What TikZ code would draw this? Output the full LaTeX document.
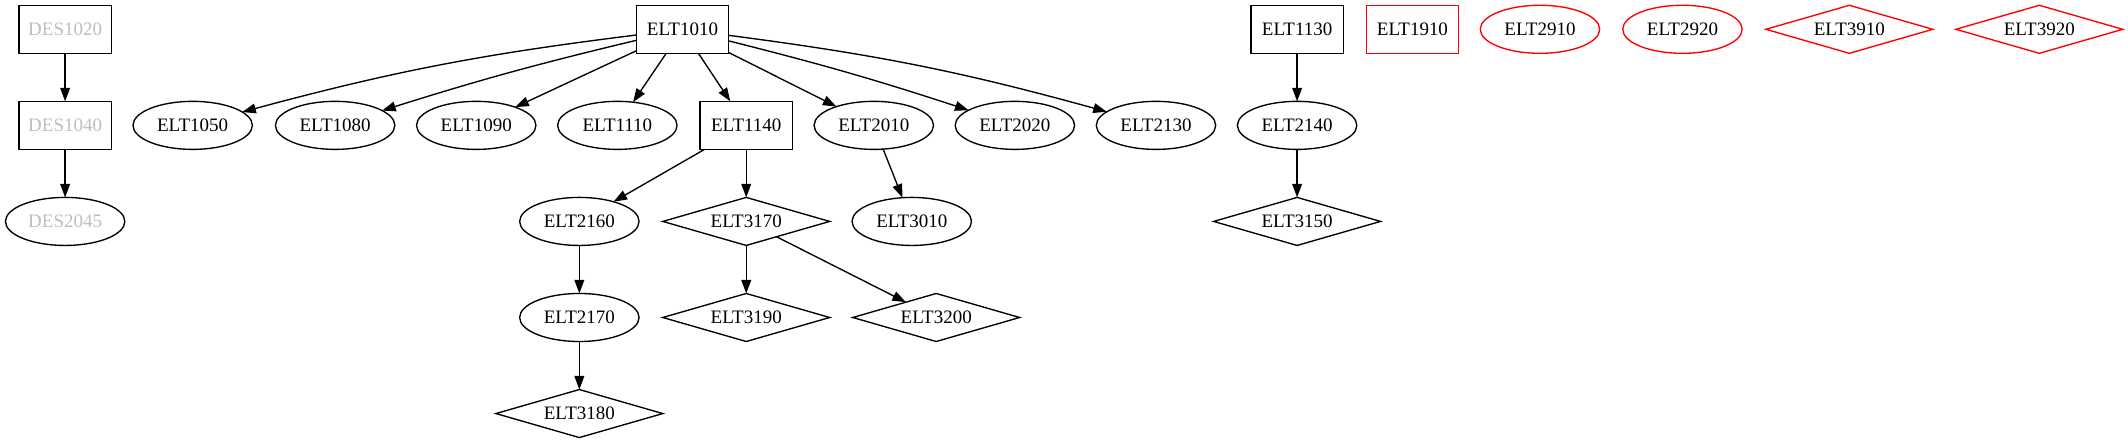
\documentclass[tikz,border=0pt]{standalone}
\usepackage{fontspec}
\setmainfont{Liberation Serif}
\usepackage{xcolor}
\usetikzlibrary{arrows.meta,positioning,shapes.geometric}
\definecolor{desgray}{RGB}{190,190,190}

\begin{document}
\begin{tikzpicture}[x=1pt, y=1pt, node distance=35.4pt, font=\fontsize{14}{16}\selectfont]
\tikzset{
    boxnode/.style={rectangle, draw=black, line width=1pt, minimum width=68pt, minimum height=35.4pt, inner sep=0pt, outer sep=0pt},
    ovalnode/.style={ellipse, draw=black, line width=1pt, minimum width=88pt, minimum height=35.4pt, inner sep=0pt, outer sep=0pt},
    diamnode/.style={diamond, aspect=3.5, draw=black, line width=1pt, minimum width=123pt, minimum height=35.4pt, inner sep=0pt, outer sep=0pt},
    desnode/.style={text=desgray},
    rednode/.style={draw=red},
    myarrow/.style={-{Triangle[length=10pt, width=7.2pt]}, line width=1pt}
}
\useasboundingbox (0,0) rectangle (1568.4,-326.4);

% DES column
\node[boxnode, desnode] (des1020) at (48,-21.6) {DES1020};
\node[boxnode, desnode, below=of des1020] (des1040) {DES1040};
\node[ovalnode, desnode, below=of des1040] (des2045) {DES2045};

% top row
\node[boxnode] (elt1010) at (503,-21.6) {ELT1010};
\node[boxnode] (elt1130) at (956,-21.6) {ELT1130};
\node[boxnode, rednode] (elt1910) at (1041,-21.6) {ELT1910};
\node[ovalnode, rednode] (elt2910) at (1135,-21.6) {ELT2910};
\node[ovalnode, rednode] (elt2920) at (1240,-21.6) {ELT2920};
\node[diamnode, rednode] (elt3910) at (1363,-21.6) {ELT3910};
\node[diamnode, rednode] (elt3920) at (1503,-21.6) {ELT3920};

% second row
\node[ovalnode] (elt1050) at (142,-92.4) {ELT1050};
\node[ovalnode] (elt1080) at (247,-92.4) {ELT1080};
\node[ovalnode] (elt1090) at (351,-92.4) {ELT1090};
\node[ovalnode] (elt1110) at (455,-92.4) {ELT1110};
\node[boxnode] (elt1140) at (550,-92.4) {ELT1140};
\node[ovalnode] (elt2010) at (644,-92.4) {ELT2010};
\node[ovalnode] (elt2020) at (748,-92.4) {ELT2020};
\node[ovalnode] (elt2130) at (852,-92.4) {ELT2130};
\node[ovalnode, below=of elt1130] (elt2140) {ELT2140};

% lower rows
\node[ovalnode] (elt2160) at (427,-163.2) {ELT2160};
\node[diamnode, below=of elt1140] (elt3170) {ELT3170};
\node[ovalnode] (elt3010) at (672,-163.2) {ELT3010};
\node[diamnode, below=of elt2140] (elt3150) {ELT3150};
\node[ovalnode, below=of elt2160] (elt2170) {ELT2170};
\node[diamnode, below=of elt3170] (elt3190) {ELT3190};
\node[diamnode] (elt3200) at (690,-234) {ELT3200};
\node[diamnode, below=of elt2170] (elt3180) {ELT3180};

\draw[myarrow] (des1020) -- (des1040);
\draw[myarrow] (des1040) -- (des2045);

\draw[myarrow] (elt1010) to[bend right=4] (elt1050);
\draw[myarrow] (elt1010) to[bend right=2] (elt1080);
\draw[myarrow] (elt1010) -- (elt1090);
\draw[myarrow] (elt1010) -- (elt1110);
\draw[myarrow] (elt1010) -- (elt1140);
\draw[myarrow] (elt1010) -- (elt2010);
\draw[myarrow] (elt1010) to[bend left=2] (elt2020);
\draw[myarrow] (elt1010) to[bend left=4] (elt2130);

\draw[myarrow] (elt1140) -- (elt2160);
\draw[myarrow] (elt1140) -- (elt3170);
\draw[myarrow] (elt2010) -- (elt3010);
\draw[myarrow] (elt2160) -- (elt2170);
\draw[myarrow] (elt2170) -- (elt3180);
\draw[myarrow] (elt3170) -- (elt3190);
\draw[myarrow] (elt3170) -- (elt3200);

\draw[myarrow] (elt1130) -- (elt2140);
\draw[myarrow] (elt2140) -- (elt3150);
\end{tikzpicture}
\end{document}
